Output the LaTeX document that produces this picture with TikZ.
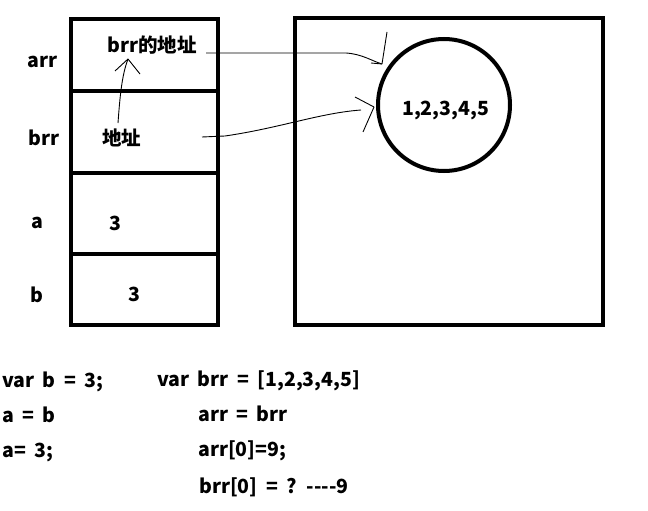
\documentclass[tikz,border=0pt]{standalone}
\usepackage{fontspec}
\setmainfont{Noto Sans CJK SC}[WordSpace=1.9]

\begin{document}
\begin{tikzpicture}[x=1pt,y=-1pt,
frame/.style={line width=4pt},
sketch/.style={line width=0.9pt},
txt/.style={anchor=base west,inner sep=0pt,font=\fontsize{19.5}{22}\selectfont\bfseries}]

\useasboundingbox (0,0) rectangle (648,511);

% stack
\draw[frame] (71,19) rectangle (218,325);
\draw[frame] (71,91) -- (220,91);
\draw[frame] (71,173) -- (220,173);
\draw[frame] (71,254) -- (220,254);

% heap
\draw[frame] (295,18) rectangle (603,325);
\draw[frame] (444,105) circle [radius=66pt];

\node[txt] (arrname) at (27,67) {arr};
\node[txt] (brrname) at (28,145) {brr};
\node[txt] (aname) at (31,228) {a};
\node[txt] (bname) at (30,302) {b};

\node[txt] (arrval) at (107,53) {brr的地址};
\node[txt] (brrval) at (102,145) {地址};
\node[txt] (aval) at (109,230) {3};
\node[txt] (bval) at (128,301) {3};
\node[txt] (list) at (402,115) {1,2,3,4,5};

\node[txt] (codea1) at (2,387) {var b = 3;};
\node[txt] (codea2) at (2,422) {a = b};
\node[txt] (codea3) at (2,457) {a= 3;};
\node[txt] (codeb1) at (157,386) {var brr = [1,2,3,4,5]};
\node[txt] (codeb2) at (198,421) {arr = brr};
\node[txt] (codeb3) at (198,456) {arr[0]=9;};
\node[txt] (codeb4) at (199,493) {brr[0] = ? -{}-{}-{}-9};

% pointers
\coordinate (arrfrom) at (206,53);
\coordinate (arrtip) at (382,64);
\coordinate (brrfrom) at (202,137);
\coordinate (brrtip) at (374,107);
\coordinate (addrfrom) at (118,123);
\coordinate (addrtip) at (128,59);

\draw[sketch] (arrfrom) -- (346,53) .. controls (362,54) and (372,61) .. (arrtip);
\draw[sketch] (arrtip) -- (387,32);
\draw[sketch] (arrtip) -- (371,63);

\draw[sketch] (brrfrom) -- (225,136) .. controls (280,128) and (320,113) .. (361,110);
\draw[sketch] (brrtip) -- (355,97);
\draw[sketch] (brrtip) -- (363,132);

\draw[sketch] (addrfrom) .. controls (120,95) and (122,75) .. (addrtip);
\draw[sketch] (addrtip) -- (115,71);
\draw[sketch] (addrtip) -- (140,74);

\end{tikzpicture}
\end{document}
